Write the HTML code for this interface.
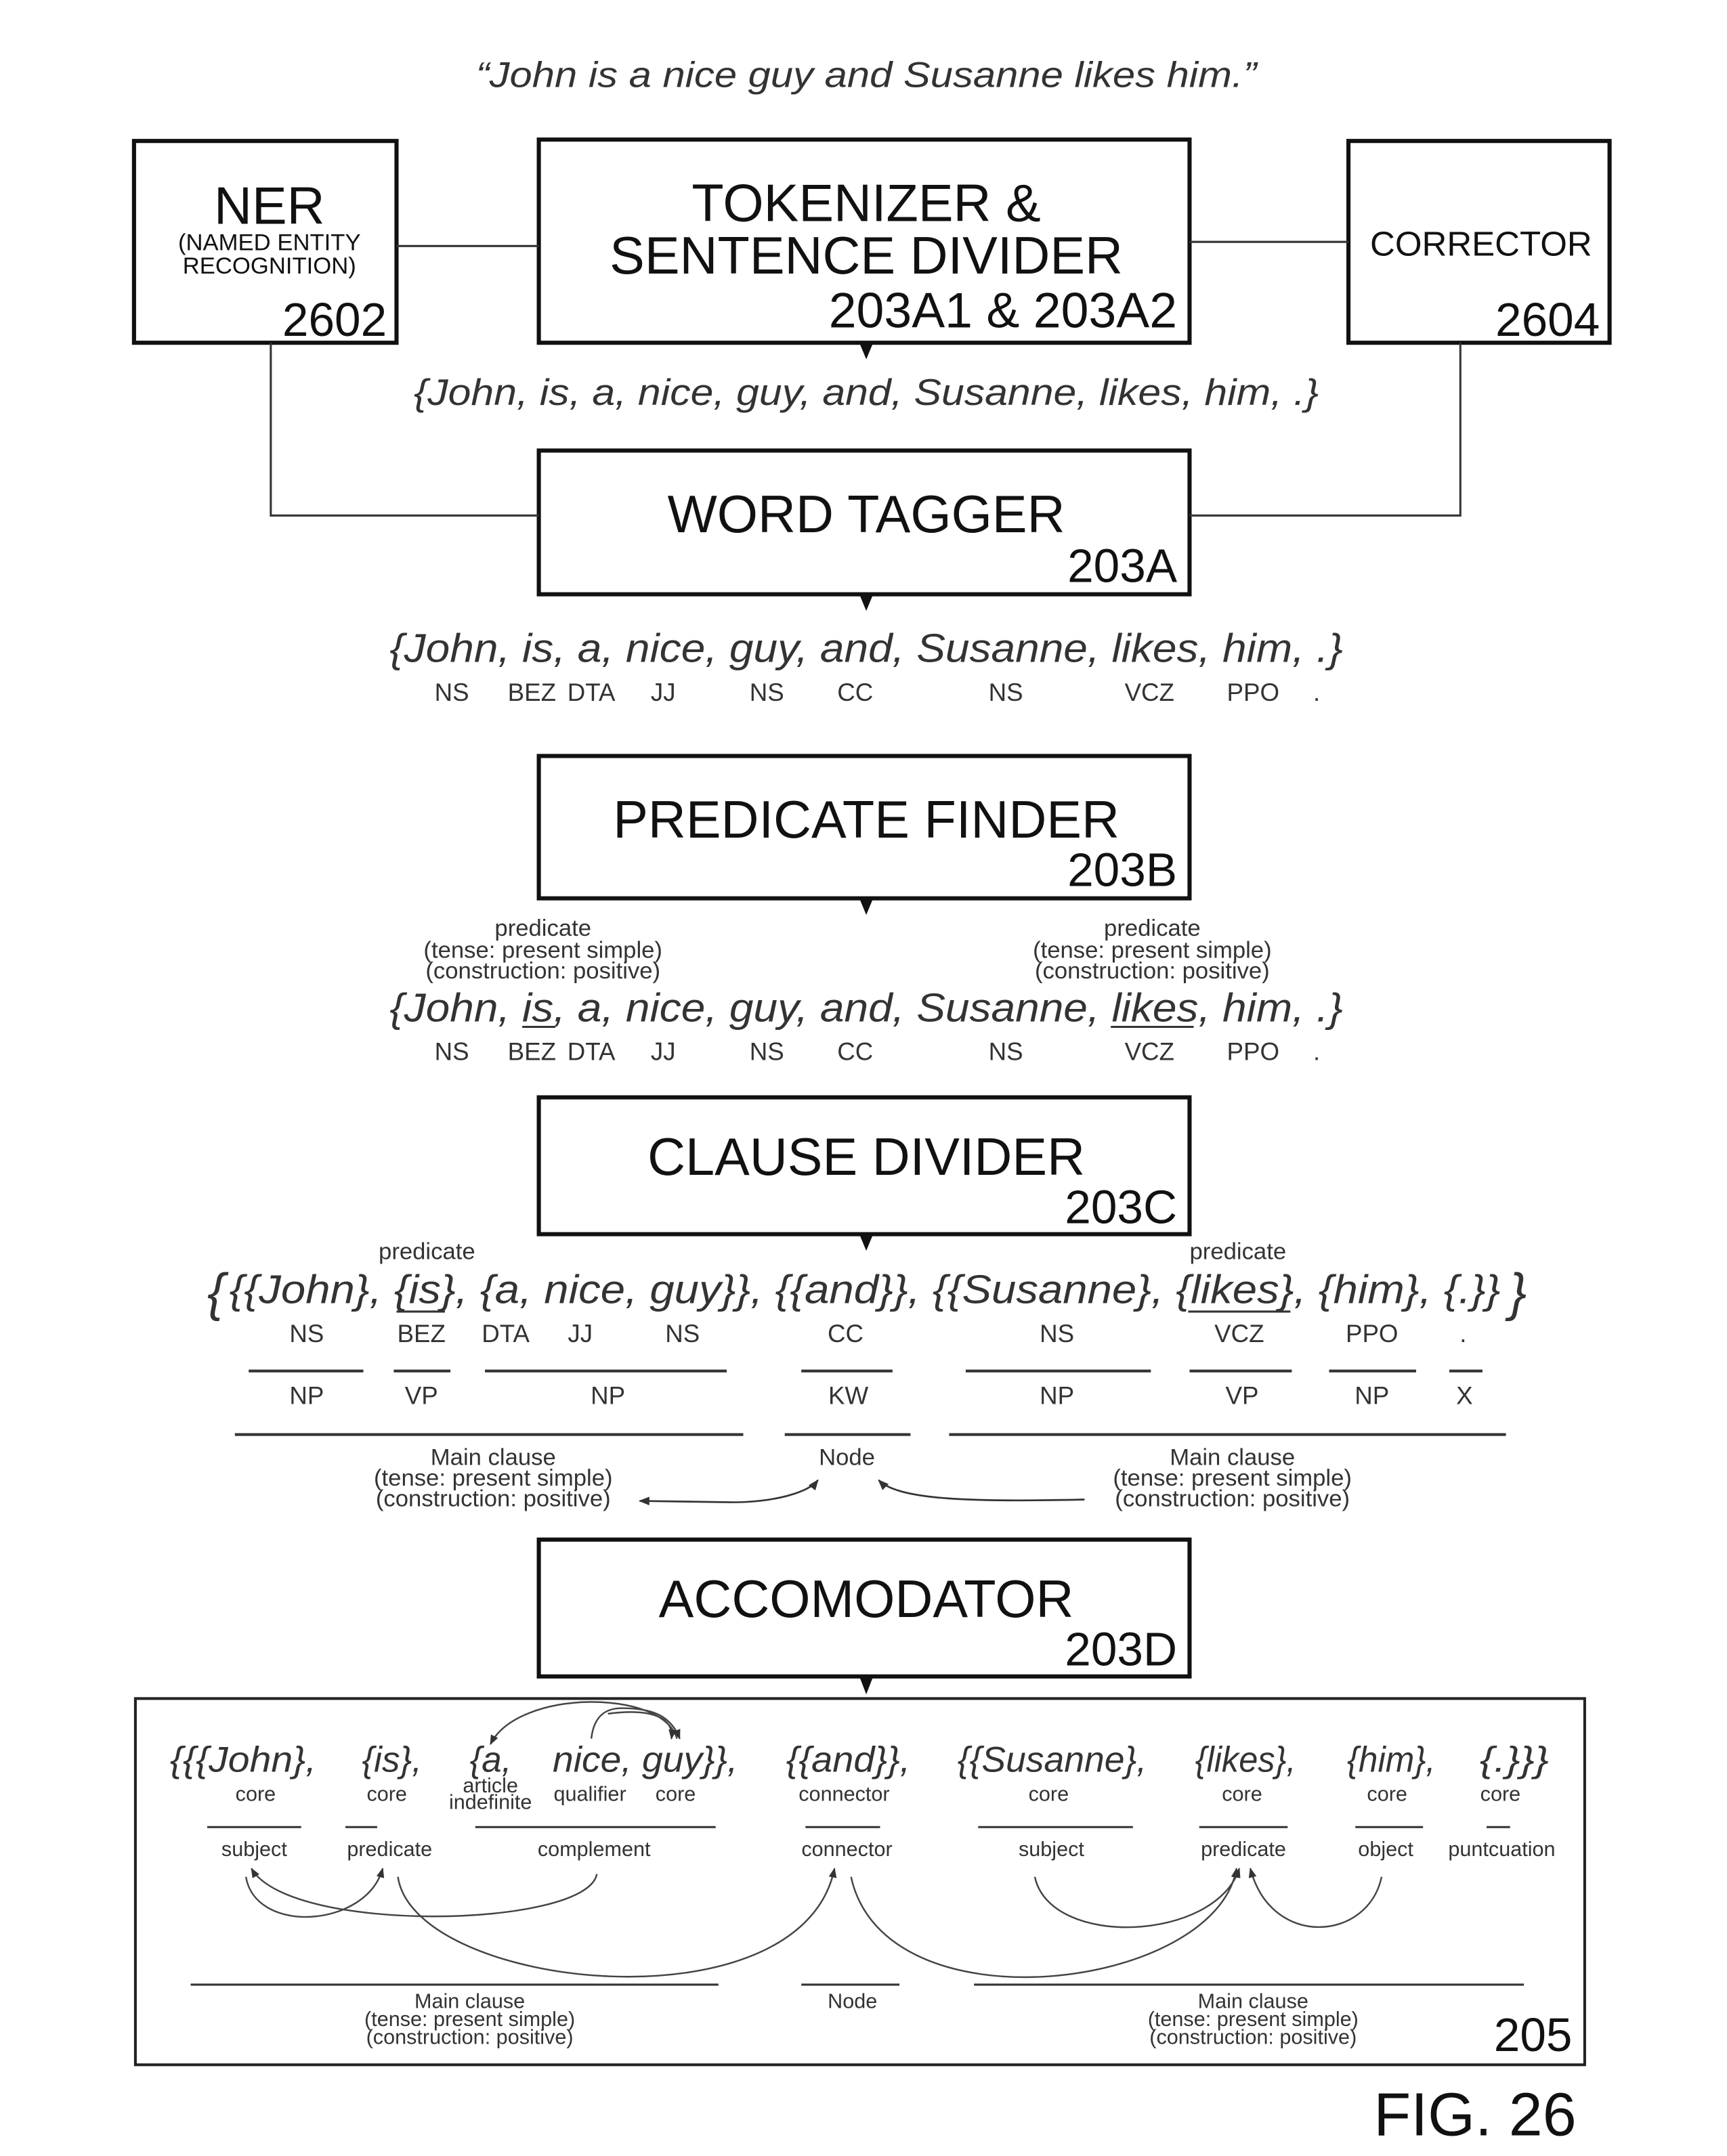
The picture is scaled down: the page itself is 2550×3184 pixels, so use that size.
<!DOCTYPE html>
<html><head><meta charset="utf-8"><style>
html,body{margin:0;padding:0;background:#fff;}
svg{display:block;}
text{font-family:"Liberation Sans",sans-serif;}
.it{font-style:italic;fill:#333;}
.s{fill:#333;}
.b{fill:#111;}
</style></head><body>
<svg width="2550" height="3184" viewBox="0 0 1250 1560" preserveAspectRatio="none" xmlns="http://www.w3.org/2000/svg">
<defs>
<marker id="ah" viewBox="0 0 10 10" refX="9" refY="5" markerWidth="6" markerHeight="6" orient="auto"><path d="M0,1 L10,5 L0,9 z" fill="#333"/></marker>
</defs>
<rect width="1250" height="1560" fill="#fff"/>
<text x="627" y="63" class="it" font-size="26" text-anchor="middle" textLength="565" lengthAdjust="spacingAndGlyphs">“John is a nice guy and Susanne likes him.”</text>

<g fill="none" stroke="#111" stroke-width="3">
<rect x="97" y="102" width="190" height="146"/>
<rect x="390" y="101" width="471" height="147"/>
<rect x="976" y="102" width="189" height="146"/>
<rect x="390" y="326" width="471" height="104"/>
<rect x="390" y="547" width="471" height="103"/>
<rect x="390" y="794" width="471" height="99"/>
<rect x="390" y="1114" width="471" height="99"/>
</g>
<rect x="98" y="1229" width="1049" height="265" fill="none" stroke="#222" stroke-width="2"/>
<g fill="none" stroke="#333" stroke-width="1.5">
<path d="M287 178 H390"/><path d="M861 175 H976"/>
<path d="M196 248 V373 H390"/><path d="M1057 248 V373 H861"/>
</g>
<g fill="#111">
<path d="M622 248 L632 248 L627 260z"/>
<path d="M622 430 L632 430 L627 442z"/>
<path d="M622 650 L632 650 L627 662z"/>
<path d="M622 893 L632 893 L627 905z"/>
<path d="M622 1213 L632 1213 L627 1226z"/>
</g>

<text x="195" y="162" class="b" font-size="38" text-anchor="middle">NER</text>
<text x="195" y="181" class="b" font-size="17" text-anchor="middle">(NAMED ENTITY</text>
<text x="195" y="198" class="b" font-size="17" text-anchor="middle">RECOGNITION)</text>
<text x="280" y="243" class="b" font-size="34" text-anchor="end">2602</text>
<text x="627" y="160" class="b" font-size="38" text-anchor="middle">TOKENIZER &amp;</text>
<text x="627" y="198" class="b" font-size="38" text-anchor="middle">SENTENCE DIVIDER</text>
<text x="852" y="237" class="b" font-size="36" text-anchor="end">203A1 &amp; 203A2</text>
<text x="1072" y="185" class="b" font-size="25" text-anchor="middle">CORRECTOR</text>
<text x="1158" y="243" class="b" font-size="34" text-anchor="end">2604</text>

<text x="627" y="293" class="it" font-size="27" text-anchor="middle" textLength="655" lengthAdjust="spacingAndGlyphs">{John, is, a, nice, guy, and, Susanne, likes, him, .}</text>

<text x="627" y="385" class="b" font-size="38" text-anchor="middle">WORD TAGGER</text>
<text x="852" y="421" class="b" font-size="34" text-anchor="end">203A</text>

<text x="627" y="479" class="it" font-size="29" text-anchor="middle" textLength="690" lengthAdjust="spacingAndGlyphs">{John, is, a, nice, guy, and, Susanne, likes, him, .}</text>
<g class="s" font-size="18" text-anchor="middle">
<text x="327" y="507">NS</text><text x="385" y="507">BEZ</text><text x="428" y="507">DTA</text><text x="480" y="507">JJ</text><text x="555" y="507">NS</text><text x="619" y="507">CC</text><text x="728" y="507">NS</text><text x="832" y="507">VCZ</text><text x="907" y="507">PPO</text><text x="953" y="507">.</text>
</g>

<text x="627" y="606" class="b" font-size="38" text-anchor="middle">PREDICATE FINDER</text>
<text x="852" y="641" class="b" font-size="34" text-anchor="end">203B</text>

<g class="s" font-size="17" text-anchor="middle">
<text x="393" y="677">predicate</text><text x="393" y="693">(tense: present simple)</text><text x="393" y="708">(construction: positive)</text>
<text x="834" y="677">predicate</text><text x="834" y="693">(tense: present simple)</text><text x="834" y="708">(construction: positive)</text>
</g>
<text x="627" y="739" class="it" font-size="29" text-anchor="middle" textLength="690" lengthAdjust="spacingAndGlyphs">{John, is, a, nice, guy, and, Susanne, likes, him, .}</text>
<path d="M378 743 H402 M804 743 H864" stroke="#333" stroke-width="1.5"/>
<g class="s" font-size="18" text-anchor="middle">
<text x="327" y="767">NS</text><text x="385" y="767">BEZ</text><text x="428" y="767">DTA</text><text x="480" y="767">JJ</text><text x="555" y="767">NS</text><text x="619" y="767">CC</text><text x="728" y="767">NS</text><text x="832" y="767">VCZ</text><text x="907" y="767">PPO</text><text x="953" y="767">.</text>
</g>

<text x="627" y="850" class="b" font-size="38" text-anchor="middle">CLAUSE DIVIDER</text>
<text x="852" y="885" class="b" font-size="34" text-anchor="end">203C</text>

<g class="s" font-size="17" text-anchor="middle"><text x="309" y="911">predicate</text><text x="896" y="911">predicate</text></g>
<text x="150" y="948" class="it" font-size="38">{</text>
<text x="1105" y="948" class="it" font-size="38" text-anchor="end">}</text>
<text x="166" y="943" class="it" font-size="29" textLength="920" lengthAdjust="spacingAndGlyphs">{{John}, {is}, {a, nice, guy}}, {{and}}, {{Susanne}, {likes}, {him}, {.}}</text>
<path d="M287 949 H322 M860 949 H934" stroke="#333" stroke-width="1.5"/>
<g class="s" font-size="18" text-anchor="middle">
<text x="222" y="971">NS</text><text x="305" y="971">BEZ</text><text x="366" y="971">DTA</text><text x="420" y="971">JJ</text><text x="494" y="971">NS</text><text x="612" y="971">CC</text><text x="765" y="971">NS</text><text x="897" y="971">VCZ</text><text x="993" y="971">PPO</text><text x="1059" y="971">.</text>
</g>
<g stroke="#333" stroke-width="2">
<path d="M180 992 H263 M285 992 H326 M351 992 H526 M580 992 H646 M699 992 H833 M861 992 H935 M962 992 H1025 M1049 992 H1073"/>
<path d="M170 1038 H538 M568 1038 H659 M687 1038 H1090"/>
</g>
<g class="s" font-size="18" text-anchor="middle">
<text x="222" y="1016">NP</text><text x="305" y="1016">VP</text><text x="440" y="1016">NP</text><text x="614" y="1016">KW</text><text x="765" y="1016">NP</text><text x="899" y="1016">VP</text><text x="993" y="1016">NP</text><text x="1060" y="1016">X</text>
</g>
<g class="s" font-size="17" text-anchor="middle">
<text x="357" y="1060">Main clause</text><text x="357" y="1075">(tense: present simple)</text><text x="357" y="1090">(construction: positive)</text>
<text x="613" y="1060">Node</text>
<text x="892" y="1060">Main clause</text><text x="892" y="1075">(tense: present simple)</text><text x="892" y="1090">(construction: positive)</text>
</g>
<g fill="none" stroke="#333" stroke-width="1.3" marker-end="url(#ah)">
<path d="M530 1087 C 560 1087, 585 1080, 592 1071"/>
<path d="M785 1085 C 700 1087, 650 1085, 636 1071"/>
<path d="M530 1087 L 463 1086"/>
</g>

<text x="627" y="1170" class="b" font-size="38" text-anchor="middle">ACCOMODATOR</text>
<text x="852" y="1205" class="b" font-size="34" text-anchor="end">203D</text>

<g class="it" font-size="26">
<text x="123" y="1282" textLength="106" lengthAdjust="spacingAndGlyphs">{{{John},</text>
<text x="262" y="1282">{is},</text>
<text x="340" y="1282">{a,</text>
<text x="400" y="1282" textLength="134" lengthAdjust="spacingAndGlyphs">nice, guy}},</text>
<text x="569" y="1282" textLength="90" lengthAdjust="spacingAndGlyphs">{{and}},</text>
<text x="693" y="1282" textLength="137" lengthAdjust="spacingAndGlyphs">{{Susanne},</text>
<text x="865" y="1282" textLength="73" lengthAdjust="spacingAndGlyphs">{likes},</text>
<text x="975" y="1282" textLength="64" lengthAdjust="spacingAndGlyphs">{him},</text>
<text x="1071" y="1282" textLength="50" lengthAdjust="spacingAndGlyphs">{.}}}</text>
</g>
<g class="s" font-size="15" text-anchor="middle">
<text x="185" y="1303">core</text><text x="280" y="1303">core</text><text x="355" y="1297">article</text><text x="355" y="1309">indefinite</text><text x="427" y="1303">qualifier</text><text x="489" y="1303">core</text><text x="611" y="1303">connector</text><text x="759" y="1303">core</text><text x="899" y="1303">core</text><text x="1004" y="1303">core</text><text x="1086" y="1303">core</text>
</g>
<g stroke="#333" stroke-width="1.5">
<path d="M150 1322 H218 M250 1322 H273 M344 1322 H518 M583 1322 H637 M708 1322 H820 M868 1322 H932 M981 1322 H1030 M1076 1322 H1093"/>
<path d="M138 1436 H520 M580 1436 H651 M705 1436 H1103"/>
</g>
<g class="s" font-size="15" text-anchor="middle">
<text x="184" y="1343">subject</text><text x="282" y="1343">predicate</text><text x="430" y="1343">complement</text><text x="613" y="1343">connector</text><text x="761" y="1343">subject</text><text x="900" y="1343">predicate</text><text x="1003" y="1343">object</text><text x="1087" y="1343">puntcuation</text>
</g>
<g fill="none" stroke="#444" stroke-width="1.2" marker-end="url(#ah)">
<path d="M490 1258 C 480 1222, 375 1222, 355 1262"/>
<path d="M428 1258 C 430 1240, 440 1236, 450 1236 C 470 1236, 485 1240, 492 1258"/>
<path d="M440 1240 C 470 1236, 488 1242, 486 1258"/>
<path d="M432 1356 C 425 1395, 210 1400, 182 1352"/>
<path d="M178 1358 C 185 1400, 265 1395, 277 1352"/>
<path d="M288 1358 C 300 1440, 580 1470, 604 1352"/>
<path d="M616 1358 C 640 1470, 880 1440, 895 1352"/>
<path d="M749 1358 C 760 1410, 880 1405, 897 1352"/>
<path d="M1000 1358 C 990 1405, 920 1410, 905 1352"/>
</g>
<g class="s" font-size="15" text-anchor="middle">
<text x="340" y="1453">Main clause</text><text x="340" y="1466">(tense: present simple)</text><text x="340" y="1479">(construction: positive)</text>
<text x="617" y="1453">Node</text>
<text x="907" y="1453">Main clause</text><text x="907" y="1466">(tense: present simple)</text><text x="907" y="1479">(construction: positive)</text>
</g>
<text x="1138" y="1484" class="b" font-size="34" text-anchor="end">205</text>
<text x="1141" y="1545" class="b" font-size="44" text-anchor="end">FIG. 26</text>
</svg>
</body></html>
